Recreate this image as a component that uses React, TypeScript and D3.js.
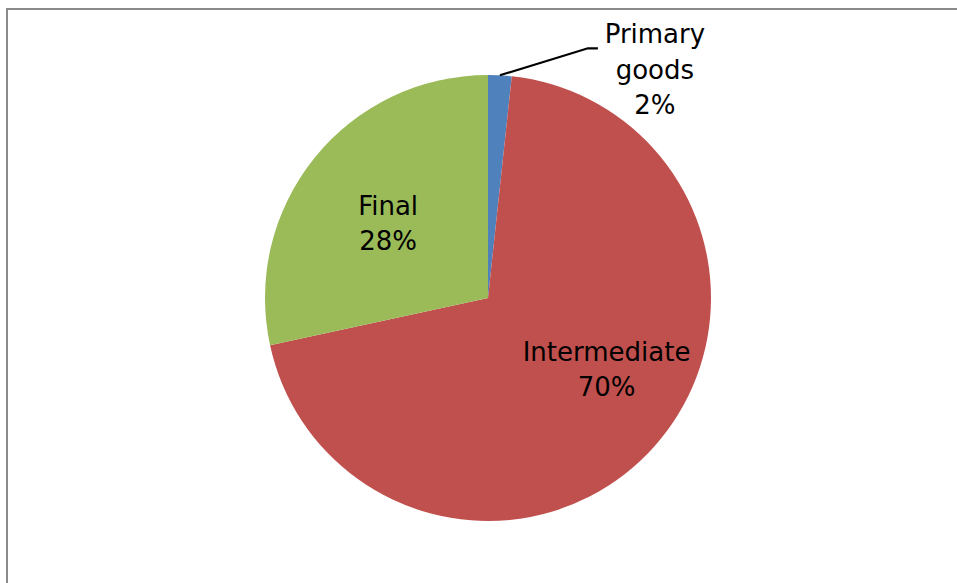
import React from "react";
import * as d3 from "d3";

const categories = ["Primary goods", "Intermediate", "Final"];
const values = [1.7, 69.9, 28.4];
const labels = ["2%", "70%", "28%"];
const colors = ["#4F81BD", "#C0504D", "#9BBB59"];

const W = 957;
const H = 583;
const cx = 488;
const cy = 298;
const R = 223;
const FONT = "'DejaVu Sans', Verdana, sans-serif";
const FS = 26;
const LH = 35.5;

export default function App() {
  const pie = d3
    .pie<number>()
    .sort(null)
    .value((d) => d)
    .startAngle(0)
    .endAngle(2 * Math.PI);
  const arcs = pie(values);
  const arcGen = d3.arc<d3.PieArcDatum<number>>().innerRadius(0).outerRadius(R);

  // inside label placement: [angle shift (rad), radius fraction]
  const labelPlace: Record<number, [number, number]> = {
    1: [(-11 * Math.PI) / 180, 0.62],
    2: [(-2 * Math.PI) / 180, 0.56],
  };

  const polar = (a: number, r: number): [number, number] => [
    r * Math.sin(a),
    -r * Math.cos(a),
  ];

  return (
    <svg
      width={W}
      height={H}
      style={{ position: "fixed", left: 0, top: 0, background: "#fff" }}
    >
      <rect x={7} y={9} width={W + 20} height={H + 20} fill="#fff" stroke="#8a8a8a" strokeWidth={2} />
      <g transform={`translate(${cx},${cy})`}>
        {arcs.map((a, i) => (
          <path key={i} d={arcGen(a) || ""} fill={colors[i]} />
        ))}
        {arcs.map((a, i) => {
          const mid = (a.startAngle + a.endAngle) / 2;
          if (i === 0) {
            const [px, py] = polar(mid, R);
            const ex = px + 88;
            const ey = py - 27;
            const tx = ex + 10 + 57;
            const lines = ["Primary", "goods", labels[i]];
            return (
              <g key={i}>
                <polyline
                  points={`${px},${py} ${ex},${ey} ${ex + 10},${ey}`}
                  fill="none"
                  stroke="#000"
                  strokeWidth={2.2}
                />
                {lines.map((t, j) => (
                  <text
                    key={j}
                    x={tx}
                    y={ey - 5 + j * LH}
                    textAnchor="middle"
                    fontFamily={FONT}
                    fontSize={FS}
                    fill="#000"
                  >
                    {t}
                  </text>
                ))}
              </g>
            );
          }
          const [shift, frac] = labelPlace[i];
          const [lx, ly] = polar(mid + shift, R * frac);
          const lines = [categories[i], labels[i]];
          return (
            <g key={i}>
              {lines.map((t, j) => (
                <text
                  key={j}
                  x={lx}
                  y={ly - LH / 2 + FS * 0.36 + j * LH}
                  textAnchor="middle"
                  fontFamily={FONT}
                  fontSize={FS}
                  fill="#000"
                >
                  {t}
                </text>
              ))}
            </g>
          );
        })}
      </g>
    </svg>
  );
}
